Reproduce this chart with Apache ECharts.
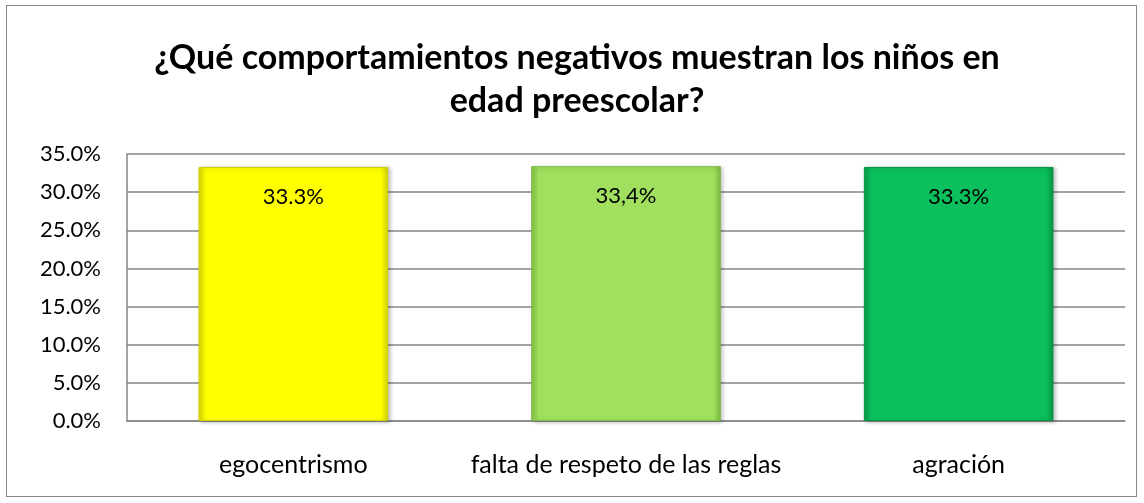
<!DOCTYPE html>
<html>
<head>
<meta charset="utf-8">
<script src="https://cdn.jsdelivr.net/npm/echarts@6/dist/echarts.min.js"></script>
<style>
  html, body { margin: 0; padding: 0; background: #fff; }
  #frame { position: absolute; left: 6px; top: 5px; width: 1131px; height: 492px; border: 1.5px solid #878787; box-sizing: border-box; }
  #chart { position: absolute; left: 0; top: 0; width: 1144px; height: 503px; }
</style>
</head>
<body>
<div id="frame"></div>
<div id="chart"></div>
<script>
var categories = ['egocentrismo', 'falta de respeto de las reglas', 'agración'];
var values = [33.3, 33.4, 33.3];
var valueLabels = ['33.3%', '33,4%', '33.3%'];
var barColors = [
  ['#d8d800', '#ffff00', '#ffff00', '#d0d000'],
  ['#86c64a', '#a0e05e', '#a0e05e', '#7cba42'],
  ['#07a04a', '#0bbf5c', '#0bbf5c', '#069446']
];

var chart = echarts.init(document.getElementById('chart'));

function fill(c) {
  return {
    type: 'linear', x: 0, y: 0, x2: 1, y2: 0,
    colorStops: [
      { offset: 0, color: c[0] },
      { offset: 0.04, color: c[1] },
      { offset: 0.96, color: c[2] },
      { offset: 1, color: c[3] }
    ]
  };
}

var data = [];
for (let i = 0; i < values.length; i++) {
  data.push({
    value: values[i],
    itemStyle: {
      color: fill(barColors[i]),
      borderColor: barColors[i][3],
      borderWidth: 1,
      shadowBlur: 4,
      shadowOffsetX: 2,
      shadowOffsetY: 1,
      shadowColor: 'rgba(0,0,0,0.25)'
    },
    label: { formatter: valueLabels[i] }
  });
}

var option = {
  animation: false,
  title: {
    text: '¿Qué comportamientos negativos muestran los niños en\nedad preescolar?',
    left: 572,
    top: 32,
    textAlign: 'center',
    textStyle: {
      fontFamily: 'Lato',
      fontWeight: 'bold',
      fontSize: 34,
      lineHeight: 43,
      color: '#000'
    }
  },
  grid: { left: 127, right: 19, top: 154, bottom: 82, containLabel: false },
  xAxis: {
    type: 'category',
    data: categories,
    axisLine: { show: true, lineStyle: { color: '#868686', width: 1.5 } },
    axisTick: { show: false },
    axisLabel: {
      fontFamily: 'Lato', fontSize: 25, color: '#000', margin: 31,
      interval: 0, hideOverlap: false
    }
  },
  yAxis: {
    type: 'value',
    min: 0,
    max: 35,
    interval: 5,
    axisLine: { show: true, lineStyle: { color: '#868686', width: 1.5 } },
    axisTick: { show: false },
    axisLabel: {
      fontFamily: 'Lato', fontSize: 22, color: '#000', margin: 26,
      formatter: function (v) { return v.toFixed(1) + '%'; }
    },
    splitLine: { lineStyle: { color: '#868686', width: 1.5 } }
  },
  series: [{
    type: 'bar',
    barWidth: '57%',
    data: data,
    label: {
      show: true,
      position: 'insideTop',
      distance: 19,
      fontFamily: 'Lato',
      fontSize: 22,
      color: '#000'
    }
  }]
};

chart.setOption(option);
</script>
</body>
</html>
